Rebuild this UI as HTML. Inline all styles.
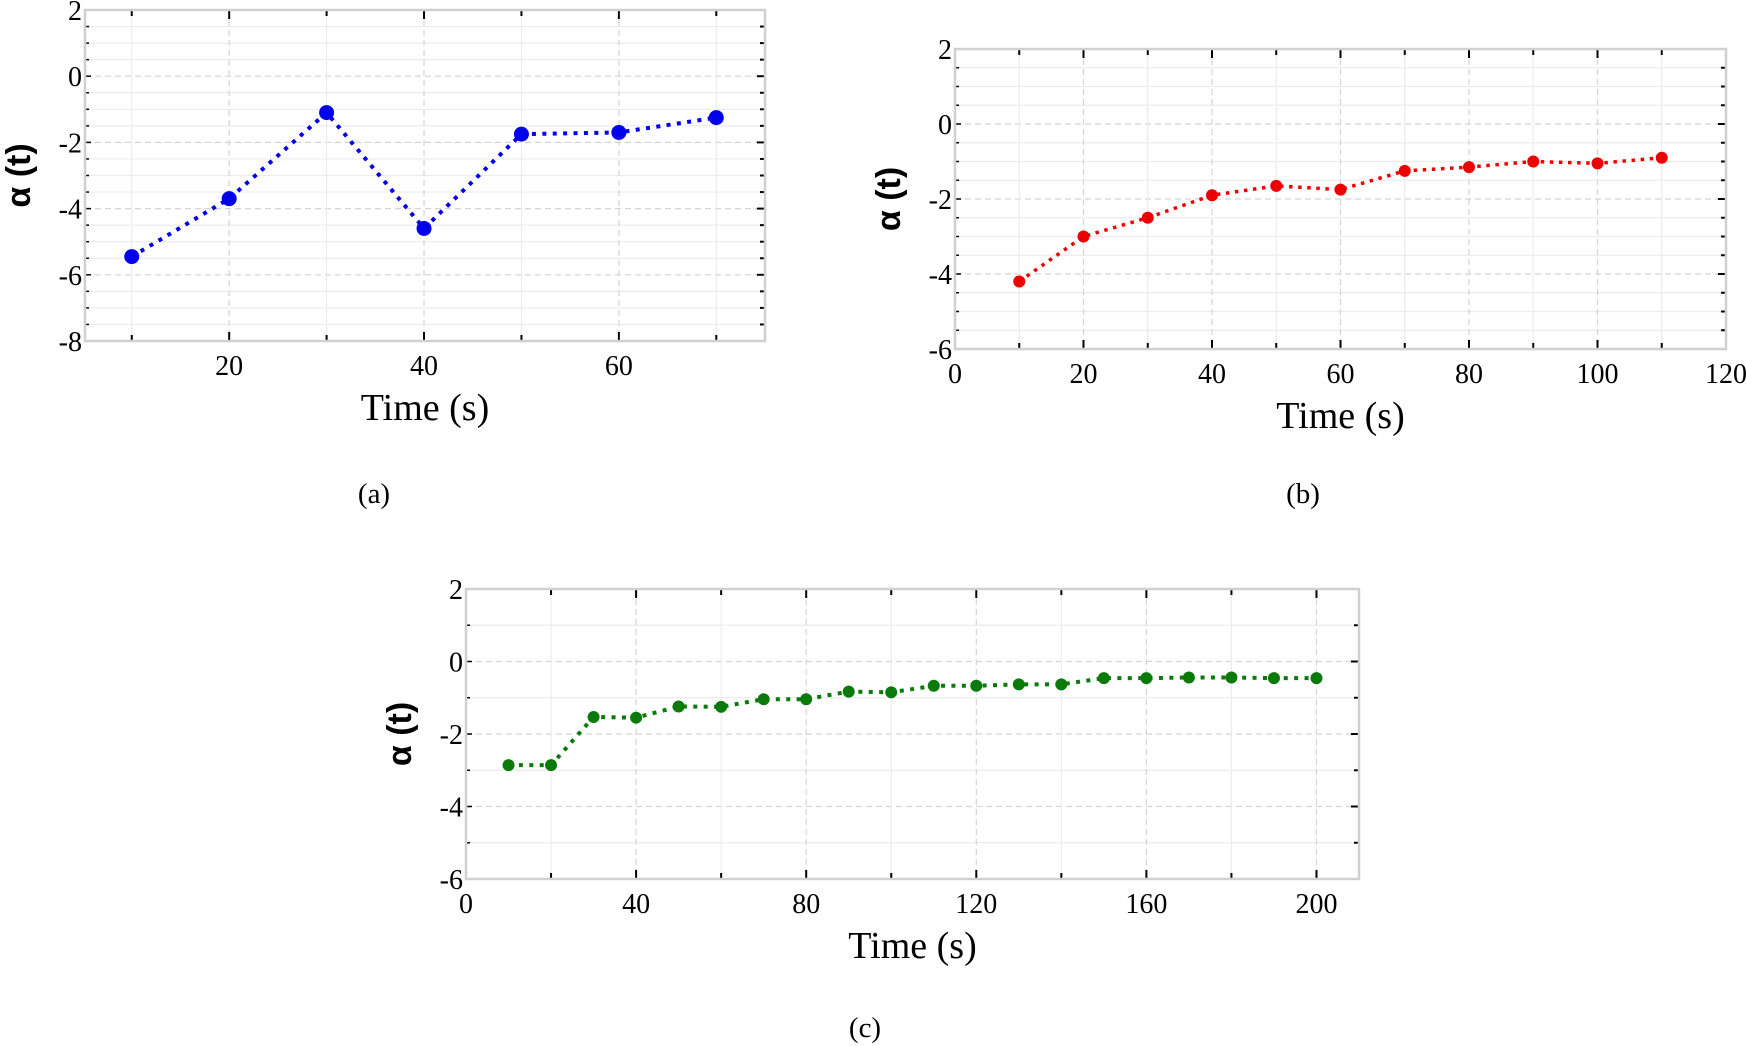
<!DOCTYPE html>
<html><head><meta charset="utf-8"><style>
html,body{margin:0;padding:0;background:#fff;width:1746px;height:1046px;overflow:hidden}
svg{display:block}
text{font-family:"Liberation Serif",serif;fill:#000}
</style></head><body>
<svg id="fig" width="1746" height="1046">
<text x="374" y="503" font-size="29" text-anchor="middle">(a)</text>
<text x="1303" y="503" font-size="29" text-anchor="middle">(b)</text>
<text x="865" y="1037" font-size="29" text-anchor="middle">(c)</text>
</svg>
<script>
const aTimes=[10,20,30,40,50,60,70];
const aValues=[-5.45,-3.7,-1.1,-4.6,-1.75,-1.7,-1.25];
const aXTicks=[20,40,60];
const aYTicks=[-8,-6,-4,-2,0,2];
const bTimes=[10,20,30,40,50,60,70,80,90,100,110];
const bValues=[-4.2,-3.0,-2.5,-1.9,-1.65,-1.75,-1.25,-1.15,-1.0,-1.05,-0.9];
const bXTicks=[0,20,40,60,80,100,120];
const bYTicks=[-6,-4,-2,0,2];
const cTimes=[10,20,30,40,50,60,70,80,90,100,110,120,130,140,150,160,170,180,190,200];
const cValues=[-2.86,-2.86,-1.53,-1.55,-1.24,-1.25,-1.04,-1.04,-0.83,-0.85,-0.67,-0.67,-0.63,-0.63,-0.46,-0.46,-0.44,-0.44,-0.46,-0.46];
const cXTicks=[0,40,80,120,160,200];
const cYTicks=[-6,-4,-2,0,2];
const NS='http://www.w3.org/2000/svg';
const svg=document.getElementById('fig');
function mk(tag,attrs,parent){const e=document.createElementNS(NS,tag);for(const k in attrs)e.setAttribute(k,attrs[k]);(parent||svg).appendChild(e);return e;}
function panel(id,box,xd,yd,times,vals,xt,yt,xminor,yminor,color,r,lw){
  const g=mk('g',{});
  
  
  const sx=v=>box.l+(v-xd[0])/(xd[1]-xd[0])*(box.r-box.l);
  const sy=v=>box.b-(v-yd[0])/(yd[1]-yd[0])*(box.b-box.t);
  for(let v=yd[0];v<=yd[1]+1e-9;v+=yminor){
    const major=yt.some(t=>Math.abs(t-v)<1e-9);
    const ln=mk('line',{x1:box.l,x2:box.r,y1:sy(v),y2:sy(v),stroke:major?'#d4d4d4':'#ececec','stroke-width':1.2,'stroke-dasharray':major?'6,4':'none'},g);
    
    
    mk('line',{x1:box.r,x2:box.r-(major?8:5),y1:sy(v),y2:sy(v),stroke:'#000','stroke-width':2},g);
    mk('line',{x1:box.l,x2:box.l+(major?6:4),y1:sy(v),y2:sy(v),stroke:'#000','stroke-width':1.5},g);
  }
  for(let v=Math.ceil(xd[0]/xminor)*xminor;v<=xd[1]+1e-9;v+=xminor){
    const major=xt.some(t=>Math.abs(t-v)<1e-9);
    const ln=mk('line',{x1:sx(v),x2:sx(v),y1:box.t,y2:box.b,stroke:major?'#d4d4d4':'#ececec','stroke-width':1.2,'stroke-dasharray':major?'6,4':'none'},g);
    
    
    mk('line',{x1:sx(v),x2:sx(v),y1:box.t,y2:box.t+(major?9:6),stroke:'#000','stroke-width':2},g);
    mk('line',{x1:sx(v),x2:sx(v),y1:box.b,y2:box.b-(major?9:6),stroke:'#000','stroke-width':2},g);
  }
  const fr=mk('rect',{x:box.l,y:box.t,width:box.r-box.l,height:box.b-box.t,fill:'none',stroke:'#d0d0d0','stroke-width':2.5},g);
  
  
  xt.forEach(v=>{const t=mk('text',{x:sx(v),y:box.b+34,'font-size':28,'text-anchor':'middle'},g);t.textContent=v;
    
    });
  yt.forEach(v=>{const t=mk('text',{x:box.l-3,y:sy(v)+10,'font-size':28,'text-anchor':'end'},g);t.textContent=v;
    
    });
  const xl=mk('text',{x:(box.l+box.r)/2,y:box.b+79,'font-size':38,'text-anchor':'middle'},g);xl.textContent='Time (s)';
  
  
  const yl=mk('text',{x:0,y:0,'font-size':34,'font-weight':'bold','text-anchor':'middle',transform:`translate(${box.l-55},${(box.t+box.b)/2}) rotate(-90)`,style:'font-family:"Liberation Sans",sans-serif'},g);yl.textContent='α (t)';
  
  
  const pts=times.map((t,i)=>sx(t)+','+sy(vals[i])).join(' ');
  const pl=mk('polyline',{points:pts,fill:'none',stroke:color,'stroke-width':lw,'stroke-dasharray':`${lw},${lw*1.6}`},g);
  
  
  times.forEach((t,i)=>{const c=mk('circle',{cx:sx(t),cy:sy(vals[i]),r:r,fill:color},g);
    
    });
}
panel('a',{l:85,r:765,t:10,b:341},[5.2,75],[-8,2],aTimes,aValues,aXTicks,aYTicks,10,0.5,'#0000ee',7.5,4);
panel('b',{l:955,r:1726,t:49,b:349},[0,120],[-6,2],bTimes,bValues,bXTicks,bYTicks,10,0.5,'#ee0000',6,3.5);
panel('c',{l:466,r:1359,t:589,b:879},[0,210],[-6,2],cTimes,cValues,cXTicks,cYTicks,20,1,'#0a7a0a',6,4);
</script>
</body></html>
